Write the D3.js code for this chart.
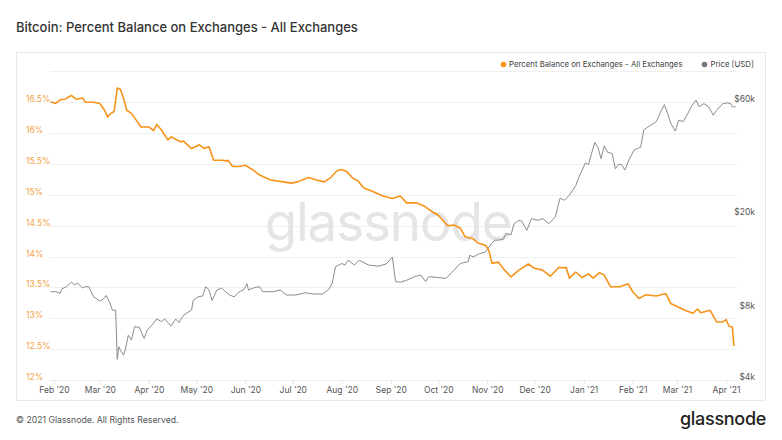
<!DOCTYPE html>
<html>
<head>
<meta charset="utf-8">
<script src="https://cdn.jsdelivr.net/npm/d3@7"></script>
<style>
  html, body { margin: 0; padding: 0; background: #ffffff; }
  svg { display: block; font-family: Inter, "Open Sans", sans-serif; }
</style>
</head>
<body>
<svg id="chart" width="782" height="440"></svg>
<script>
// ---------- data ----------
const title = "Bitcoin: Percent Balance on Exchanges - All Exchanges";
const seriesNames = ["Percent Balance on Exchanges - All Exchanges", "Price [USD]"];

const balanceDates = [
  "2020-01-30","2020-02-02","2020-02-05","2020-02-08","2020-02-12","2020-02-15","2020-02-19","2020-02-21",
  "2020-02-26","2020-03-01","2020-03-04","2020-03-06","2020-03-08","2020-03-10","2020-03-11","2020-03-12",
  "2020-03-14","2020-03-16","2020-03-18","2020-03-21","2020-03-24","2020-03-27","2020-04-01","2020-04-04",
  "2020-04-06","2020-04-09","2020-04-13","2020-04-15","2020-04-21","2020-04-23","2020-04-28","2020-05-03",
  "2020-05-06","2020-05-09","2020-05-12","2020-05-17","2020-05-20","2020-05-21","2020-05-24","2020-05-28",
  "2020-06-01","2020-06-06","2020-06-10","2020-06-17","2020-06-25","2020-06-30","2020-07-04","2020-07-11",
  "2020-07-16","2020-07-21","2020-07-25","2020-07-29","2020-08-01","2020-08-04","2020-08-08","2020-08-11",
  "2020-08-15","2020-08-21","2020-08-27","2020-09-02","2020-09-07","2020-09-11","2020-09-17","2020-09-22",
  "2020-09-27","2020-10-01","2020-10-07","2020-10-11","2020-10-15","2020-10-18","2020-10-23","2020-10-26",
  "2020-10-31","2020-11-02","2020-11-04","2020-11-08","2020-11-12","2020-11-16","2020-11-21","2020-11-27",
  "2020-12-01","2020-12-06","2020-12-11","2020-12-16","2020-12-21","2020-12-23","2020-12-27","2020-12-31",
  "2021-01-04","2021-01-07","2021-01-11","2021-01-14","2021-01-18","2021-01-24","2021-01-29","2021-02-01",
  "2021-02-05","2021-02-09","2021-02-16","2021-02-22","2021-02-25","2021-03-01","2021-03-06","2021-03-11",
  "2021-03-14","2021-03-16","2021-03-22","2021-03-26","2021-03-30","2021-04-01","2021-04-03","2021-04-05",
  "2021-04-06"
];
const balanceValues = [
  16.51,16.48,16.54,16.55,16.61,16.55,16.57,16.50,
  16.50,16.48,16.37,16.26,16.32,16.35,16.54,16.73,
  16.71,16.56,16.37,16.32,16.21,16.10,16.10,16.04,
  16.14,16.05,15.89,15.94,15.86,15.87,15.75,15.81,
  15.75,15.78,15.56,15.56,15.55,15.56,15.46,15.46,
  15.48,15.40,15.32,15.24,15.21,15.19,15.21,15.28,
  15.24,15.21,15.28,15.39,15.41,15.38,15.27,15.23,
  15.11,15.05,14.98,14.94,14.98,14.87,14.87,14.82,
  14.73,14.67,14.50,14.51,14.46,14.32,14.29,14.22,
  14.18,14.10,13.89,13.91,13.78,13.67,13.78,13.88,
  13.81,13.78,13.68,13.82,13.82,13.65,13.75,13.66,
  13.72,13.65,13.74,13.70,13.51,13.51,13.56,13.43,
  13.32,13.38,13.36,13.40,13.24,13.19,13.13,13.08,
  13.15,13.09,13.13,12.94,12.94,12.98,12.87,12.86,
  12.55
];

const priceDates = [
  "2020-01-30","2020-02-02","2020-02-05","2020-02-06","2020-02-09","2020-02-12","2020-02-14","2020-02-16",
  "2020-02-19","2020-02-21","2020-02-23","2020-02-26","2020-03-01","2020-03-03","2020-03-05","2020-03-07",
  "2020-03-09","2020-03-11","2020-03-12","2020-03-13","2020-03-14","2020-03-16","2020-03-17","2020-03-19",
  "2020-03-21","2020-03-23","2020-03-26","2020-03-29","2020-03-31","2020-04-03","2020-04-06","2020-04-09",
  "2020-04-11","2020-04-15","2020-04-18","2020-04-20","2020-04-23","2020-04-28","2020-04-29","2020-05-02",
  "2020-05-05","2020-05-07","2020-05-09","2020-05-11","2020-05-14","2020-05-17","2020-05-19","2020-05-22",
  "2020-05-25","2020-05-27","2020-05-29","2020-05-31","2020-06-02","2020-06-03","2020-06-06","2020-06-10",
  "2020-06-12","2020-06-19","2020-06-23","2020-06-27","2020-07-03","2020-07-09","2020-07-14","2020-07-20",
  "2020-07-24","2020-07-26","2020-07-28","2020-08-01","2020-08-03","2020-08-05","2020-08-09","2020-08-12",
  "2020-08-18","2020-08-24","2020-08-29","2020-09-02","2020-09-04","2020-09-07","2020-09-11","2020-09-16",
  "2020-09-20","2020-09-23","2020-09-25","2020-09-30","2020-10-06","2020-10-10","2020-10-15","2020-10-20",
  "2020-10-21","2020-10-23","2020-10-27","2020-10-31","2020-11-04","2020-11-06","2020-11-08","2020-11-11",
  "2020-11-13","2020-11-16","2020-11-18","2020-11-21","2020-11-23","2020-11-26","2020-11-29","2020-12-03",
  "2020-12-06","2020-12-10","2020-12-14","2020-12-17","2020-12-20","2020-12-23","2020-12-27","2020-12-29",
  "2021-01-01","2021-01-02","2021-01-04","2021-01-08","2021-01-10","2021-01-12","2021-01-14","2021-01-16",
  "2021-01-19","2021-01-21","2021-01-23","2021-01-25","2021-01-27","2021-01-30","2021-02-02","2021-02-04",
  "2021-02-06","2021-02-08","2021-02-12","2021-02-16","2021-02-19","2021-02-21","2021-02-23","2021-02-25",
  "2021-02-28","2021-03-02","2021-03-05","2021-03-08","2021-03-10","2021-03-13","2021-03-15","2021-03-18",
  "2021-03-21","2021-03-24","2021-03-26","2021-03-30","2021-04-02","2021-04-04","2021-04-05","2021-04-07"
];
const priceValues = [
  9440,9440,9300,9700,9920,10350,10100,10250,
  9790,9920,9900,8990,8620,8770,9100,8560,
  7880,7880,4890,5530,5340,5100,5340,6190,
  5900,6720,6670,6000,6500,6830,7240,7060,
  7240,6760,7240,6990,7520,7900,8670,8980,
  9050,9920,9600,8670,9600,9780,9500,9140,
  8980,9300,9500,9600,10200,9600,9780,9920,
  9440,9440,9600,9140,9140,9340,9230,9230,
  9700,10250,12030,12420,12230,12830,12230,12830,
  12230,12100,12350,13190,10420,10350,10550,10920,
  11110,10420,10920,10850,10740,11460,12420,12650,
  13460,13230,13660,13900,15200,15600,15600,15700,
  16640,16390,18300,18900,18700,17140,19200,18900,
  19200,18300,19500,23400,22960,24160,26500,28800,
  31800,33000,32500,40300,38400,34400,39000,36700,
  36200,31200,32600,32500,30800,34400,37500,38000,
  38400,45500,47500,49400,54800,58200,53600,48600,
  45000,50000,49400,53600,57000,60800,57000,58800,
  57000,52500,55000,58800,59200,58800,57000,57000
];

const leftTicks = [12, 12.5, 13, 13.5, 14, 14.5, 15, 15.5, 16, 16.5, 17];
const leftTickLabels = ["12%","12.5%","13%","13.5%","14%","14.5%","15%","15.5%","16%","16.5%",""];
const rightTicks = [4000, 8000, 20000, 60000];
const rightTickLabels = ["$4k","$8k","$20k","$60k"];
const monthTicks = ["2020-02-01","2020-03-01","2020-04-01","2020-05-01","2020-06-01","2020-07-01","2020-08-01",
  "2020-09-01","2020-10-01","2020-11-01","2020-12-01","2021-01-01","2021-02-01","2021-03-01","2021-04-01"];
const monthLabels = ["Feb '20","Mar '20","Apr '20","May '20","Jun '20","Jul '20","Aug '20","Sep '20",
  "Oct '20","Nov '20","Dec '20","Jan '21","Feb '21","Mar '21","Apr '21"];

// ---------- styles ----------
const ORANGE = "#f7931a";
const ORANGE_LABEL = "#f5a245";
const GREY = "#8c8c8c";

const parse = d3.utcParse("%Y-%m-%d");
const balance = balanceDates.map((d, i) => ({ date: parse(d), v: balanceValues[i] }));
const price = priceDates.map((d, i) => ({ date: parse(d), v: priceValues[i] }));

const svg = d3.select("#chart");

// panel
svg.append("rect").attr("x", 16.5).attr("y", 52.5).attr("width", 749).attr("height", 348)
  .attr("fill", "#fff").attr("stroke", "#e9e9e9");

// title
svg.append("text").attr("x", 16).attr("y", 32).attr("font-size", 13).attr("font-weight", 500)
  .attr("fill", "#333").text(title);

// scales
const x = d3.scaleUtc().domain([parse("2020-02-01"), parse("2021-04-01")]).range([54, 726]);
const yL = d3.scaleLinear().domain([12, 17]).range([380, 71.4]);
const yR = d3.scaleLog().domain([4000, 60000]).range([380, 101.5]);
const plotLeft = 50, plotRight = 737;

// gridlines
svg.append("g").selectAll("line").data(leftTicks).join("line")
  .attr("x1", plotLeft).attr("x2", plotRight)
  .attr("y1", d => Math.round(yL(d)) + 0.5).attr("y2", d => Math.round(yL(d)) + 0.5)
  .attr("stroke", "#efefef");

// watermark
svg.append("text").attr("x", 388).attr("y", 241).attr("text-anchor", "middle")
  .attr("font-size", 53).attr("font-weight", 400).attr("letter-spacing", -1.2)
  .attr("fill", "#e5e5e5").text("glassnode");

// x axis
const xAxis = d3.axisBottom(x).tickValues(monthTicks.map(parse))
  .tickFormat((d, i) => monthLabels[i]).tickSize(4).tickSizeOuter(0);
const gx = svg.append("g").attr("transform", "translate(0,380)").call(xAxis);
gx.select(".domain").remove();
gx.selectAll(".tick line").attr("stroke", "#e3e3e3");
gx.selectAll(".tick text").attr("fill", "#555").attr("font-size", 8.5)
  .attr("font-family", "Inter, sans-serif").attr("dy", "0.95em").attr("y", 5);

// left axis labels
const yAxisL = d3.axisLeft(yL).tickValues(leftTicks).tickFormat((d, i) => leftTickLabels[i]).tickSize(0);
const gl = svg.append("g").attr("transform", "translate(26,0)").call(yAxisL);
gl.select(".domain").remove();
gl.selectAll(".tick text").attr("text-anchor", "start").attr("x", 0).attr("dy", "-0.05em")
  .attr("fill", ORANGE_LABEL).attr("font-size", 8.5).attr("font-family", "Inter, sans-serif");

// right axis labels
const yAxisR = d3.axisRight(yR).tickValues(rightTicks).tickFormat((d, i) => rightTickLabels[i]).tickSize(0);
const gr = svg.append("g").attr("transform", "translate(755,0)").call(yAxisR);
gr.select(".domain").remove();
gr.selectAll(".tick text").attr("text-anchor", "end").attr("x", 0).attr("dy", "-0.05em")
  .attr("fill", "#555").attr("font-size", 8.5).attr("font-family", "Inter, sans-serif");

// lines
const priceLine = d3.line().x(d => x(d.date)).y(d => yR(d.v));
svg.append("path").datum(price).attr("d", priceLine).attr("fill", "none")
  .attr("stroke", GREY).attr("stroke-width", 1);

const balLine = d3.line().x(d => x(d.date)).y(d => yL(d.v));
svg.append("path").datum(balance).attr("d", balLine).attr("fill", "none")
  .attr("stroke", ORANGE).attr("stroke-width", 1.6).attr("stroke-linejoin", "round");

// legend
const legend = svg.append("g").attr("font-size", 7.8).attr("fill", "#444");
legend.append("circle").attr("cx", 503.5).attr("cy", 64.5).attr("r", 2.8).attr("fill", ORANGE);
legend.append("text").attr("x", 509).attr("y", 67.3).text(seriesNames[0]);
legend.append("circle").attr("cx", 704.5).attr("cy", 64.5).attr("r", 2.8).attr("fill", "#777");
legend.append("text").attr("x", 710.5).attr("y", 67.3).text(seriesNames[1]);

// footer
svg.append("text").attr("x", 16).attr("y", 423).attr("font-size", 8.7).attr("fill", "#555")
  .text("© 2021 Glassnode. All Rights Reserved.");
svg.append("text").attr("x", 766).attr("y", 425).attr("text-anchor", "end")
  .attr("font-size", 18).attr("font-weight", 500).attr("letter-spacing", -0.3)
  .attr("fill", "#222").text("glassnode");
</script>
</body>
</html>
